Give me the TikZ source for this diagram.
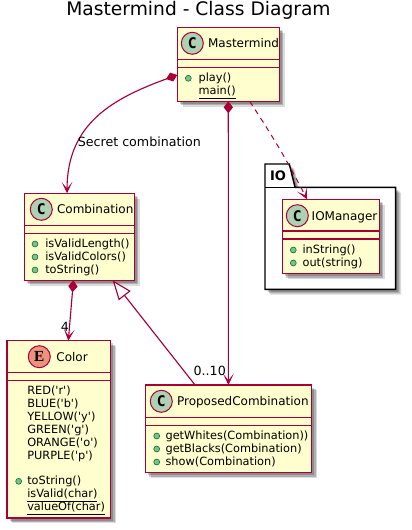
\documentclass[tikz,border=0pt]{standalone}
\usepackage{fontspec}
\setmainfont{DejaVu Sans}[Ligatures=TeXOff]
\newfontfamily\classglyph{DejaVu Sans Mono}
\newfontfamily\enumglyph{Liberation Serif}
\usetikzlibrary{positioning, arrows.meta, shadows}
\definecolor{umlred}{HTML}{A80036}
\definecolor{umlfill}{HTML}{FEFECE}
\definecolor{umlclass}{HTML}{ADD1B2}
\definecolor{umlenum}{HTML}{EB937F}
\definecolor{umldot}{HTML}{84BE84}
\definecolor{umldotline}{HTML}{038048}
\tikzset{
	softshadow/.style={drop shadow={shadow xshift=4pt,shadow yshift=-4pt,fill=black,opacity=.14},
		drop shadow={shadow xshift=3pt,shadow yshift=-3pt,fill=black,opacity=.2},
		drop shadow={shadow xshift=2pt,shadow yshift=-2pt,fill=black,opacity=.2}},
	classbox/.style={draw=umlred,fill=umlfill,line width=1.1pt,anchor=north west,inner sep=0pt,outer sep=0pt,softshadow},
	classdot/.style={circle,draw=umlred,fill=umlclass,line width=.75pt,minimum size=16.5pt,inner sep=0pt,font=\fontsize{11}{11}\classglyph\bfseries},
	enumdot/.style={classdot,fill=umlenum,font=\fontsize{11.5}{11.5}\enumglyph\bfseries},
	classname/.style={inner sep=0pt,text height=6.5pt,text depth=0pt,font=\fontsize{9}{9.75}\selectfont},
	members/.style={anchor=north west,inner sep=0pt,align=left,font=\fontsize{8.5}{9.65}\selectfont},
	member/.style={circle,draw=umldotline,fill=umldot,line width=.5pt,minimum size=4.4pt,inner sep=0pt},
	sepline/.style={draw=umlred,line width=1.1pt},
	umllabel/.style={text=black,inner sep=0pt,font=\fontsize{9.5}{10}\selectfont},
	compose/.style={draw=umlred,line width=.85pt,{Diamond[length=9pt,width=7pt,fill=umlred]}-{Stealth[length=8.5pt,width=8pt,inset=5pt]}},
	depend/.style={draw=umlred,line width=.75pt,dash pattern=on 4pt off 3.5pt,-{Stealth[length=8.5pt,width=8pt,inset=5pt,sep=0pt]}},
	extend/.style={draw=umlred,line width=.85pt,{Triangle[open,length=14.7pt,width=11.2pt,fill=white]}-}
}
\begin{document}
\begin{tikzpicture}[x=.75pt,y=-.75pt]
	\useasboundingbox (0,0) rectangle (411,530);
	
	\node[font=\fontsize{14}{16}\selectfont,inner sep=0pt] (title) at (198.5,10) {Mastermind - Class Diagram};
	
	%IO package
	\draw[black,fill=white,line width=1.1pt,softshadow] (265,164) -- (289.3,164) -- (295,187.3) -- (395.7,187.3) -- (395.7,289.3) -- (265,289.3) -- cycle;
	\draw[black,line width=1.1pt] (265,187.3) -- (295,187.3);
	\node[font=\fontsize{9.8}{10}\selectfont\bfseries,inner sep=0pt] (io_label) at (278,175.5) {IO};
	
	%Class boxes
	\node[classbox,minimum width=76.5pt,minimum height=55.5pt] (mastermind) at (177.3,27.3) {};
	\node[classbox,minimum width=82.5pt,minimum height=65.25pt] (combination) at (24.3,193.3) {};
	\node[classbox,minimum width=77.8pt,minimum height=133pt] (color) at (7,340.7) {};
	\node[classbox,minimum width=124.65pt,minimum height=65.8pt] (proposed) at (145.3,385) {};
	\node[classbox,minimum width=72.75pt,minimum height=55.8pt] (iomanager) at (282.3,199.3) {};
	
	%Compartment lines
	\foreach \cls/\first/\second in {mastermind/59.3/67.3,combination/225.3/233.3,color/372.3/380.3,proposed/417.7/425.7,iomanager/231/239} {
		\draw[sepline] (\cls.west |- 0,\first) -- (\cls.east |- 0,\first);
		\draw[sepline] (\cls.west |- 0,\second) -- (\cls.east |- 0,\second);
	}
	
	%Class names
	\node[classdot] (mastermind_c) at (192.3,43.3) {C};
	\node[classname] (mastermind_n) [right=3pt of mastermind_c] {Mastermind};
	\node[classdot] (combination_c) at (41.3,209.3) {C};
	\node[classname] (combination_n) [right=3pt of combination_c] {Combination};
	\node[enumdot] (color_e) at (39.3,356.7) {E};
	\node[classname] (color_n) [right=4pt of color_e] {Color};
	\node[classdot] (proposed_c) at (161.3,401.3) {C};
	\node[classname] (proposed_n) [right=3pt of proposed_c] {ProposedCombination};
	\node[classdot] (iomanager_c) at (297.3,215.7) {C};
	\node[classname] (iomanager_n) [right=2pt of iomanager_c] {IOManager};
	
	%Members
	\node[members] (mastermind_m) at (198.3,73) {play()\\\underline{main()}};
	\node[members] (combination_m) at (45,239) {isValidLength()\\isValidColors()\\toString()};
	\node[members] (color_m) at (27,386) {RED('r')\\BLUE('b')\\YELLOW('y')\\GREEN('g')\\ORANGE('o')\\PURPLE('p')\\ \\toString()\\\underline{isValid(char)}\\\underline{valueOf(char)}};
	\node[members] (proposed_m) at (165.3,431) {getWhites(Combination))\\getBlacks(Combination)\\show(Combination)};
	\node[members] (iomanager_m) at (302.3,245) {inString()\\out(string)};
	
	\foreach \x/\y [count=\i] in {188.3/78.3,35/244,35/257,35/270,18.7/481.3,156.7/436,156.7/449,156.7/462,293.3/250,293.3/263}
		\node[member] (dot\i) at (\x,\y) {};
	
	%Relations
	\path
	([yshift=-8pt]mastermind.west) edge [compose,out=200,in=90,looseness=1.1] node [umllabel,pos=.7,anchor=west,xshift=-1pt] {Secret combination} ([xshift=-9.2pt]combination.north)
	(mastermind.south) edge [compose] node [umllabel,pos=.95,anchor=east,xshift=-1.5pt] {0..10} (proposed.north)
	([xshift=16pt]mastermind.south) edge [depend,bend left=3] ([xshift=-17.8pt]iomanager.north)
	([xshift=-4.4pt]combination.south) edge [compose] node [umllabel,pos=.77,anchor=east,xshift=0pt] {4} ([xshift=7.1pt]color.north)
	([xshift=25pt]combination.south) edge [extend] ([xshift=-25pt]proposed.north);
	
	\end{tikzpicture}
\end{document}
